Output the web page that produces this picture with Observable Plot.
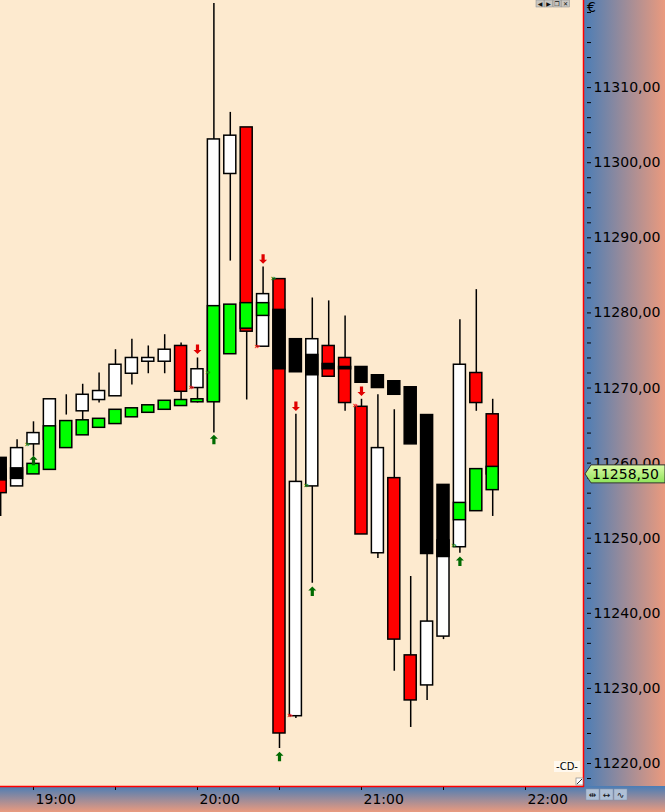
<!DOCTYPE html>
<html><head><meta charset="utf-8">
<script src="https://cdn.jsdelivr.net/npm/d3@7"></script>
<script src="https://cdn.jsdelivr.net/npm/@observablehq/plot@0.6"></script>
<style>
html,body{margin:0;padding:0;background:#FDEACF;}
#chart svg{display:block}
</style></head><body><div id="chart"></div>
<script>
// ---- data (6-minute bars) ----
const barTimes = ["18:48","18:54","19:00","19:06","19:12","19:18","19:24","19:30","19:36","19:42","19:48","19:54","20:00","20:06","20:12","20:18","20:24","20:30","20:36","20:42","20:48","20:54","21:00","21:06","21:12","21:18","21:24","21:30","21:36","21:42","21:48"];
const opens  = [11259.1,11256.9,11262.5,11263.1,11268.0,11266.9,11268.4,11268.9,11271.9,11273.5,11273.5,11275.6,11270.0,11268.3,11298.5,11304.7,11275.5,11284.5,11226.3,11256.9,11275.6,11274.0,11267.5,11248.0,11258.0,11234.4,11230.4,11236.9,11248.8,11272.0,11266.5];
const highs  = [11259.1,11263.1,11265.5,11268.5,11269.1,11270.5,11272.0,11275.1,11276.5,11275.6,11277.1,11276.0,11274.0,11321.2,11306.7,11304.7,11286.1,11284.5,11266.5,11282.0,11281.6,11279.6,11268.5,11269.1,11267.1,11244.9,11248.1,11249.7,11279.1,11283.1,11268.5];
const lows   = [11252.9,11256.9,11260.9,11261.7,11266.4,11265.7,11268.0,11268.9,11270.4,11271.9,11271.9,11268.4,11268.0,11264.0,11286.9,11268.4,11275.5,11222.0,11226.0,11244.0,11271.5,11266.9,11250.5,11247.3,11232.3,11224.8,11228.4,11236.5,11248.0,11266.9,11252.9];
const closes = [11256.0,11262.0,11264.0,11268.5,11268.0,11269.1,11269.6,11273.1,11274.0,11274.0,11275.1,11269.5,11272.5,11303.1,11303.6,11277.5,11282.5,11224.0,11257.5,11276.5,11271.5,11268.0,11250.5,11262.0,11236.5,11228.4,11238.9,11249.7,11273.1,11268.0,11258.5];
// overlay (wickless) boxes
const haOpens  = [11260.7,11259.3,11258.5,11259.1,11262.0,11263.7,11264.7,11265.2,11266.1,11266.7,11267.1,11267.6,11268.1,11268.1,11274.5,11277.9,11279.6,11280.4,11276.5,11274.4,11273.2,11272.8,11272.8,11271.7,11270.9,11270.1,11266.4,11257.1,11252.4,11253.6,11256.4];
const haCloses = [11257.7,11257.9,11259.9,11264.9,11265.6,11265.7,11265.9,11267.1,11267.3,11267.7,11268.3,11268.4,11268.5,11280.9,11281.1,11281.3,11281.3,11272.5,11272.1,11271.7,11272.5,11272.5,11270.7,11270.0,11269.1,11262.5,11247.9,11247.5,11254.7,11259.2,11259.5];
// signals
const buyArrowTimes   = ["19:00","20:06","20:30","20:42","21:36"];
const buyArrowValues  = [11260.3,11263.1,11220.9,11242.9,11246.9];
const sellArrowTimes  = ["20:00","20:24","20:36","21:00"];
const sellArrowValues = [11275.2,11287.2,11267.6,11269.6];
const buyMarkTimes    = ["19:00","20:06","20:30","20:42","21:36"];
const buyMarkValues   = [11262.5,11272.1,11284.7,11257.1,11249.1];
const sellMarkTimes   = ["20:00","20:24","20:36","21:00"];
const sellMarkValues  = [11270.1,11275.6,11226.5,11267.7];
const lastPrice = 11258.5;
// axes
const yLabelTicks = [11220,11230,11240,11250,11260,11270,11280,11290,11300,11310];
const yMinorTicks = d3.range(11218, 11322, 2);
const hourTicks = ["19:00","20:00","21:00","22:00"];
const halfHourTicks = ["18:30","19:30","20:30","21:30"];
const xStart = "18:47:56", xEnd = "22:21:13";
const yMin = 11216.94, yMax = 11321.6;

// ---- build ----
const parseTime = s => new Date(`2018-03-01T${s.length === 5 ? s + ":00" : s}Z`);
const bars = barTimes.map((s, i) => ({t: parseTime(s), open: opens[i], high: highs[i], low: lows[i], close: closes[i], haOpen: haOpens[i], haClose: haCloses[i]}));
const pts = (times, values) => times.map((s, i) => ({t: parseTime(s), v: values[i]}));
const halfBar = 2.2 * 60 * 1000;
const leftEdge = d => new Date(+d.t - halfBar);
const rightEdge = d => new Date(+d.t + halfBar);
const fmt = d => d.toFixed(2).replace(".", ",");

const arrowUp = {draw(c) { c.moveTo(0,-5); c.lineTo(4,-1); c.lineTo(1.6,-1); c.lineTo(1.6,4.5); c.lineTo(-1.6,4.5); c.lineTo(-1.6,-1); c.lineTo(-4,-1); c.closePath(); }};
const arrowDown = {draw(c) { c.moveTo(0,5); c.lineTo(4,1); c.lineTo(1.6,1); c.lineTo(1.6,-4.5); c.lineTo(-1.6,-4.5); c.lineTo(-1.6,1); c.lineTo(-4,1); c.closePath(); }};

const background = (index, scales, values, dim) => {
  const g = d3.create("svg:g");
  const defs = g.append("defs");
  const gr = defs.append("linearGradient").attr("id", "gradR").attr("x1", 0).attr("x2", 1).attr("y1", 0).attr("y2", 0);
  gr.append("stop").attr("offset", "0%").attr("stop-color", "#4A7DB6");
  gr.append("stop").attr("offset", "100%").attr("stop-color", "#EA9A7E");
  const gb = defs.append("linearGradient").attr("id", "gradB").attr("x1", 0).attr("x2", 0).attr("y1", 0).attr("y2", 1);
  gb.append("stop").attr("offset", "0%").attr("stop-color", "#4A7DB6");
  gb.append("stop").attr("offset", "100%").attr("stop-color", "#EA9A7E");
  const gg = defs.append("linearGradient").attr("id", "gradG").attr("x1", 0).attr("x2", 0).attr("y1", 0).attr("y2", 1);
  gg.append("stop").attr("offset", "0%").attr("stop-color", "#DDFBA8");
  gg.append("stop").attr("offset", "100%").attr("stop-color", "#8EE35A");
  const x0 = dim.width - dim.marginRight, y0 = dim.height - dim.marginBottom;
  g.append("rect").attr("x", 0).attr("y", 0).attr("width", x0).attr("height", y0).attr("fill", "#FDEACF");
  g.append("rect").attr("x", x0).attr("y", 0).attr("width", dim.marginRight).attr("height", y0).attr("fill", "url(#gradR)");
  g.append("rect").attr("x", 0).attr("y", y0).attr("width", dim.width).attr("height", dim.marginBottom).attr("fill", "url(#gradB)");
  return g.node();
};

const overlay = (index, {y}, values, dim) => {
  const g = d3.create("svg:g").attr("text-anchor", "start");
  const W = dim.width, x0 = W - dim.marginRight, y0 = dim.height - dim.marginBottom;
  g.append("line").attr("x1", x0 + 0.5).attr("x2", x0 + 0.5).attr("y1", 0).attr("y2", y0 + 1).attr("stroke", "#FF0000").attr("stroke-width", 1.5);
  g.append("line").attr("x1", 0).attr("x2", x0 + 1).attr("y1", y0 + 0.5).attr("y2", y0 + 0.5).attr("stroke", "#FF0000").attr("stroke-width", 1.5);
  // last price marker
  const py = y(lastPrice);
  g.append("path").attr("d", `M${x0+2},${py} L${x0+8},${py-9} L${W},${py-9} L${W},${py+9} L${x0+8},${py+9} Z`)
    .attr("fill", "url(#gradG)").attr("stroke", "#333").attr("stroke-width", 1);
  g.append("text").attr("x", x0 + 9).attr("y", py).attr("dy", "0.35em").attr("text-anchor", "start").attr("font-size", 14).attr("fill", "#000").text(fmt(lastPrice));
  // euro sign
  g.append("text").attr("x", x0 + 4).attr("y", 12).attr("text-anchor", "start").attr("font-size", 14).attr("fill", "#000").text("€");
  // window buttons top-right
  const btn = ["◀", "▶", "❐", "✕"];
  btn.forEach((s, i) => {
    const bx = x0 - 47 + i * 8.5;
    g.append("rect").attr("x", bx).attr("y", 0).attr("width", 8).attr("height", 7).attr("fill", "#C9C6C0").attr("stroke", "#888").attr("stroke-width", 0.5);
    g.append("text").attr("x", bx + 4).attr("y", 6).attr("text-anchor", "middle").attr("font-size", 6).attr("fill", "#111").text(s);
  });
  // connector icon bottom right of plot
  g.append("rect").attr("x", x0 - 29).attr("y", y0 - 25).attr("width", 26).attr("height", 11).attr("fill", "#FFF8EE");
  g.append("text").attr("x", x0 - 16).attr("y", y0 - 16).attr("text-anchor", "middle").attr("font-size", 10).attr("fill", "#000").text("-CD-");
  // resize icon
  g.append("rect").attr("x", x0 - 7).attr("y", y0 - 8).attr("width", 7).attr("height", 7).attr("fill", "#fff").attr("stroke", "#888").attr("stroke-width", 0.7);
  g.append("line").attr("x1", x0 - 6).attr("y1", y0 - 2).attr("x2", x0 - 1).attr("y2", y0 - 7).attr("stroke", "#000").attr("stroke-width", 0.8);
  // three buttons bottom right
  ["⇹", "↔", "∿"].forEach((s, i) => {
    const bx = x0 + 3 + i * 14;
    g.append("rect").attr("x", bx).attr("y", y0 + 3).attr("width", 13).attr("height", 11).attr("fill", "#AFC0D6").attr("stroke", "#8595AA").attr("stroke-width", 0.5);
    g.append("text").attr("x", bx + 6.5).attr("y", y0 + 12).attr("text-anchor", "middle").attr("font-size", 9).attr("fill", "#111").text(s);
  });
  return g.node();
};

const chart = Plot.plot({
  width: 665, height: 812,
  marginLeft: 0, marginRight: 82, marginTop: 0, marginBottom: 26,
  style: {background: "#FDEACF", fontFamily: "'DejaVu Sans', Verdana, sans-serif", fontSize: "14px", color: "black", overflow: "visible"},
  x: {type: "utc", domain: [parseTime(xStart), parseTime(xEnd)], label: null},
  y: {domain: [yMin, yMax], label: null},
  marks: [
    background,
    // wicks
    Plot.ruleX(bars, {x: "t", y1: "low", y2: "high", stroke: "black", strokeWidth: 1.5}),
    // candle bodies
    Plot.rect(bars, {filter: d => d.close >= d.open, x1: leftEdge, x2: rightEdge, y1: "open", y2: "close", fill: "#FFFFFF", stroke: "black", strokeWidth: 1.5}),
    Plot.rect(bars, {filter: d => d.close < d.open, x1: leftEdge, x2: rightEdge, y1: "open", y2: "close", fill: "#FF0000", stroke: "black", strokeWidth: 1.5}),
    // overlay boxes
    Plot.rect(bars, {filter: d => d.haClose >= d.haOpen, x1: leftEdge, x2: rightEdge, y1: "haOpen", y2: "haClose", fill: "#00FF00", stroke: "black", strokeWidth: 1.5}),
    Plot.rect(bars, {filter: d => d.haClose < d.haOpen, x1: leftEdge, x2: rightEdge, y1: "haOpen", y2: "haClose", fill: "#000000", stroke: "black", strokeWidth: 1.5}),
    // signals
    Plot.dot(pts(buyArrowTimes, buyArrowValues), {x: "t", y: "v", symbol: arrowUp, r: 5, fill: "#006A00", stroke: "none"}),
    Plot.dot(pts(sellArrowTimes, sellArrowValues), {x: "t", y: "v", symbol: arrowDown, r: 5, fill: "#E00000", stroke: "none"}),
    Plot.text(pts(buyMarkTimes, buyMarkValues), {x: d => new Date(+d.t - halfBar), y: "v", text: () => "»", fill: "#1E8A1E", fontSize: 9, fontWeight: "bold"}),
    Plot.text(pts(sellMarkTimes, sellMarkValues), {x: d => new Date(+d.t - halfBar), y: "v", text: () => "»", fill: "#FF2020", fontSize: 9, fontWeight: "bold"}),
    // axes
    Plot.axisY(yMinorTicks, {anchor: "right", tickSize: 4, dx: 3, fill: "none", stroke: "black", strokeWidth: 1}),
    Plot.axisY(yLabelTicks, {anchor: "right", tickSize: 0, tickPadding: 10, textAnchor: "start", tickFormat: fmt, fill: "black", fontSize: 14}),
    Plot.axisX([...hourTicks, ...halfHourTicks].map(parseTime), {anchor: "bottom", tickSize: 4, fill: "none", stroke: "black", strokeWidth: 1}),
    Plot.axisX(hourTicks.map(parseTime), {anchor: "bottom", tickSize: 0, tickPadding: 8, textAnchor: "start", dx: 2, tickFormat: d3.utcFormat("%H:%M"), fill: "black", fontSize: 14}),
    overlay
  ]
});
document.getElementById("chart").appendChild(chart);
</script>
</body></html>
